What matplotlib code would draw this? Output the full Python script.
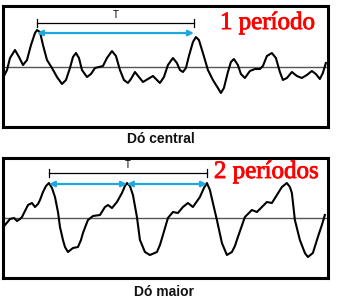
import numpy as np
import matplotlib
matplotlib.use("Agg")
import matplotlib.pyplot as plt
import matplotlib.patheffects as pe

# waveform of "Dó central" (time, amplitude)
t_central = [1, 4, 7, 12, 16, 20, 24, 28, 32, 34, 37, 40, 44, 49, 54, 59, 63, 67, 70, 73,
             76, 79, 84, 88, 92, 96, 100, 104, 109, 113, 117, 121, 125, 128, 132, 136, 140,
             145, 150, 154, 157, 161, 165, 170, 174, 177, 180, 183, 186, 190, 193, 196, 200,
             205, 210, 215, 218, 221, 225, 228, 231, 235, 238, 242, 247, 252, 257, 260, 264,
             269, 273, 277, 280, 284, 289, 294, 299, 304, 309, 313, 317, 320, 323]
a_central = [-9, -3, 9, 17, 10, 2, 7, 22, 34, 37, 35, 22, 7, -1, -10, -17, -13, -1, 10, 14,
             9, -3, -10, -7, -1, 0, 1, 9, 16, 11, -3, -13, -16, -12, -5, -10, -15,
             -12, -9, -13, -16, -10, 2, 9, 4, -3, -5, -1, 11, 25, 30, 27, 14,
             -3, -13, -21, -26, -21, -5, 5, 8, 2, -7, -11, -4, -2, -2, 1, 11,
             14, 9, -5, -13, -11, -5, -9, -11, -8, -4, -7, -12, -6, 4]

# waveform of "Dó maior"
t_maior = [2, 7, 11, 14, 17, 19, 22, 25, 29, 32, 35, 37, 40, 43, 46, 49, 52, 55, 57, 60,
           62, 65, 70, 75, 78, 80, 83, 85, 90, 97, 102, 105, 109, 114, 119, 122, 124, 127,
           130, 134, 137, 142, 147, 154, 157, 160, 165, 170, 175, 180, 185, 190, 197, 201,
           204, 207, 210, 214, 219, 224, 229, 232, 235, 242, 249, 254, 259, 264, 269, 274,
           279, 284, 287, 289, 292, 297, 302, 305, 310, 315, 319, 322]
a_maior = [-7, -1, 0, -3, -1, 1, 7, 13, 15, 11, 14, 18, 26, 32, 35, 30, 21, 6, -9, -22,
           -29, -34, -30, -29, -22, -15, -7, -2, 2, 3, 11, 13, 10, 16, 25, 32, 35, 32,
           23, 1, -22, -34, -37, -34, -27, -17, 0, 6, 5, 11, 15, 11, 21, 30,
           35, 28, 15, -2, -25, -37, -34, -28, -19, 1, 8, 6, 11, 16, 15, 23,
           31, 35, 31, 25, -2, -22, -35, -39, -35, -19, -7, 3]

# periods marked on each panel
marks_central = [34, 191]
marks_maior = [46, 124, 204]

fig = plt.figure(figsize=(3.57, 3.03), dpi=100)
ax1 = fig.add_axes([0.0084, 0.581, 0.910, 0.399])
ax2 = fig.add_axes([0.0084, 0.0825, 0.910, 0.396])

blue = "#1ea7e1"


def draw_panel(ax, t, a, marks, label, ylim, bracket_y, arrow_y, text_x, text_y):
    ax.plot([0, 325], [0, 0], color="#555555", lw=1.0, zorder=1)
    ax.plot(t, a, color="black", lw=1.5, zorder=2, solid_joinstyle="round")
    # T bracket
    ax.plot([marks[0], marks[-1]], [bracket_y, bracket_y], color="black", lw=0.9)
    for m in (marks[0], marks[-1]):
        ax.plot([m, m], [bracket_y - 4, bracket_y + 4], color="black", lw=0.9)
    ax.text((marks[0] + marks[-1]) / 2, bracket_y + 3, "T", ha="center", va="bottom",
            fontsize=7, family="Liberation Sans")
    # blue arrows, one per period
    for i in range(len(marks) - 1):
        ax.annotate("", xy=(marks[i], arrow_y), xytext=(marks[i + 1], arrow_y),
                    arrowprops=dict(arrowstyle="<|-|>", color=blue, lw=1.6,
                                    mutation_scale=8, shrinkA=0, shrinkB=0))
    ax.text(text_x, text_y, label, color="#ff0000", fontsize=18,
            family="Liberation Serif", ha="left", va="center",
            path_effects=[pe.withStroke(linewidth=0.6, foreground="#ff0000")])
    ax.set_xlim(0, 325)
    ax.set_ylim(*ylim)
    ax.set_xticks([])
    ax.set_yticks([])
    for s in ax.spines.values():
        s.set_linewidth(2.2)
        s.set_color("black")


draw_panel(ax1, t_central, a_central, marks_central, "1 período", (-60, 61), 44, 34, 217, 44)
draw_panel(ax2, t_maior, a_maior, marks_maior, "2 períodos", (-60, 60), 45, 34, 211, 46)

fig.text(0.451, 0.541, "Dó central", ha="center", va="center", fontsize=10,
         fontweight="bold", family="Liberation Sans", color="#111111")
fig.text(0.459, 0.036, "Dó maior", ha="center", va="center", fontsize=10,
         fontweight="bold", family="Liberation Sans", color="#111111")

fig.savefig("out.png", dpi=100)
